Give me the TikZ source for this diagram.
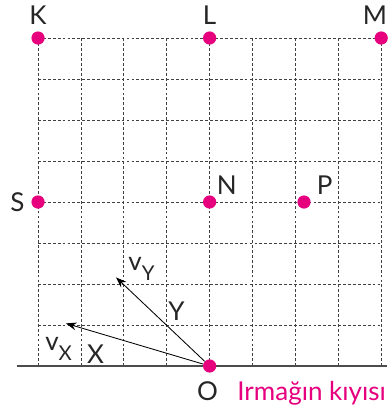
\documentclass[tikz,border=0pt]{standalone}
\usepackage{fontspec}
\setmainfont{Lato}
\usetikzlibrary{arrows.meta}
\definecolor{dotpink}{HTML}{E6007E}
\newcommand{\vsub}[1]{v\raisebox{-7.5pt}{\fontsize{14.5}{15}\selectfont #1}}

\begin{document}
\begin{tikzpicture}[
    x=1.0725cm, y=1.025cm,
    >={Stealth[length=7.5pt, width=5.5pt]},
    gridline/.style = {black!75, line width=0.5pt, dash pattern=on 2pt off 1.5pt},
    shore/.style    = {black!70, line width=1.1pt},
    vec/.style      = {->, line width=0.6pt},
    dot/.style      = {circle, fill=dotpink, inner sep=0pt, minimum size=0.33cm},
    lbl/.style      = {font=\fontsize{18.5}{20}\selectfont, inner sep=0pt, text=black!85}
]
\useasboundingbox (-0.886, -1.146) rectangle (8.135, 8.927);

% dashed square grid
\foreach \i in {0,...,8}
    \draw[gridline] (\i, 0) -- (\i, 8);
\foreach \j in {1,...,8}
    \draw[gridline] (0, \j) -- (8, \j);

% river bank
\coordinate (bankW) at (-0.49, 0);
\coordinate (bankE) at (8.135, 0);
\draw[shore] (bankW) -- (bankE);

% velocity vectors from O
\coordinate (vX) at (0.65, 1.04);
\coordinate (vY) at (1.82, 2.16);
\node[dot] (O) at (4, 0) {};
\draw[vec] (O) -- (vX);
\draw[vec] (O) -- (vY);

% points
\node[dot, label={[lbl, label distance=4.6pt]above:K}] (K) at (0, 8) {};
\node[dot, label={[lbl, label distance=4.6pt]above:L}] (L) at (4, 8) {};
\node[dot, label={[lbl, label distance=4.6pt, xshift=-4.5pt]above:M}] (M) at (8, 8) {};
\node[dot, label={[lbl, label distance=4.6pt]left:S}] (S) at (0, 4) {};
\node[dot, label={[lbl, label distance=2pt]above right:N}] (N) at (4, 4) {};
\node[dot, label={[lbl, label distance=2pt, xshift=4pt]above right:P}] (P) at (6.2, 4) {};
\node[lbl, anchor=base] (Olbl) at (3.95, -0.846) {O};

% labels
\node[lbl, anchor=base west] (vxlbl) at (0.163, 0.39) {\vsub{X}};
\node[lbl, anchor=base west] (vylbl) at (2.10, 2.34) {\vsub{Y}};
\node[lbl, anchor=base west] (xlbl)  at (1.14, 0.07) {X};
\node[lbl, anchor=base west] (ylbl)  at (3.03, 1.12) {Y};
\node[lbl, anchor=base west, text=dotpink] (bank) at (4.64, -0.846) {Irmağın kıyısı};

\end{tikzpicture}
\end{document}
